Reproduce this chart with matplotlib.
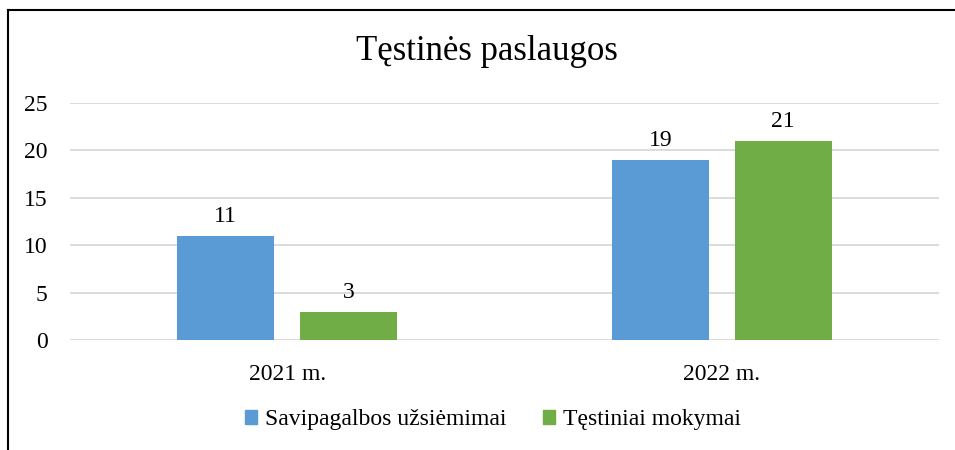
import numpy as np
import matplotlib
matplotlib.use("Agg")
import matplotlib.pyplot as plt
from matplotlib.patches import Rectangle
from matplotlib.lines import Line2D

# chart data
years = ["2021 m.", "2022 m."]
savipagalba = [11, 19]
mokymai = [3, 21]
series_names = ["Savipagalbos užsiėmimai", "Tęstiniai mokymai"]
y_ticks = [0, 5, 10, 15, 20, 25]

plt.rcParams['font.family'] = ['Liberation Serif', 'DejaVu Serif']

fig = plt.figure(figsize=(9.55, 4.5), dpi=100)
ax = fig.add_axes([70 / 955, 1 - 340 / 450, (939 - 70) / 955, (340 - 103) / 450])

x = np.arange(len(years))
width = 0.223
off = width / 2 + 0.03
b1 = ax.bar(x - off, savipagalba, width, color="#5B9BD5", label=series_names[0], zorder=3)
b2 = ax.bar(x + off, mokymai, width, color="#70AD47", label=series_names[1], zorder=3)

for bars in (b1, b2):
    for bar in bars:
        h = bar.get_height()
        ax.annotate(str(h), (bar.get_x() + bar.get_width() / 2, h),
                    xytext=(0, 9), textcoords="offset pixels",
                    ha="center", va="bottom", fontsize=17)

ax.set_xlim(-0.5, 1.5)
ax.set_ylim(0, 25)
ax.set_yticks(y_ticks)
ax.set_xticks(x)
ax.set_xticklabels(years)
ax.tick_params(axis="both", length=0, labelsize=17)
ax.tick_params(axis="y", pad=16)
ax.tick_params(axis="x", pad=17)
ax.grid(axis="y", color="#D9D9D9", linewidth=1.3, zorder=0)
for s in ax.spines.values():
    s.set_visible(False)

fig.text(487 / 955, 1 - 52 / 450, "Tęstinės paslaugos", ha="center", va="center", fontsize=25)

# outer frame (left and top edges only are visible)
fig.add_artist(Line2D([8 / 955, 8 / 955], [0, 1 - 10 / 450], color="black", lw=1.5))
fig.add_artist(Line2D([8 / 955, 1], [1 - 10 / 450, 1 - 10 / 450], color="black", lw=1.5))

handles = [Rectangle((0, 0), 1, 1, color="#5B9BD5"), Rectangle((0, 0), 1, 1, color="#70AD47")]
fig.legend(handles, series_names, loc="center", bbox_to_anchor=(493 / 955, 1 - 420 / 450),
           ncol=2, frameon=False, fontsize=17, handlelength=0.49, handleheight=0.49,
           handletextpad=0.35, columnspacing=1.55)

fig.savefig("out.png", dpi=100)
